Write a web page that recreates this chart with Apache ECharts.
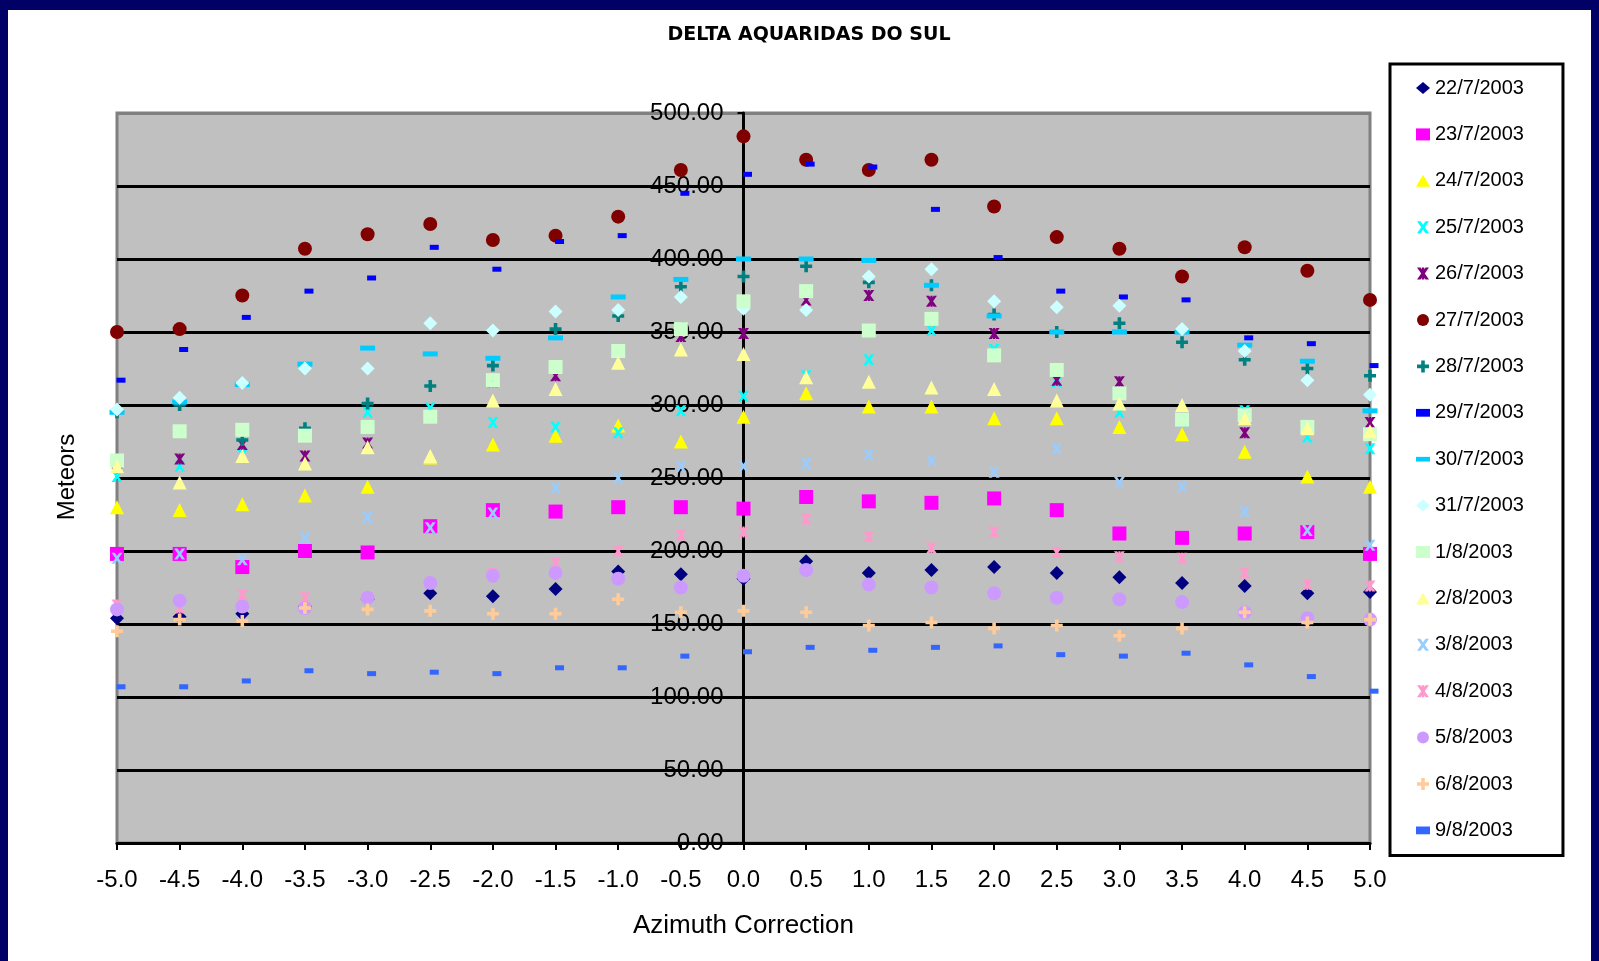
<!DOCTYPE html>
<html><head><meta charset="utf-8">
<script src="https://cdn.jsdelivr.net/npm/echarts@6/dist/echarts.min.js"></script>
<style>html,body{margin:0;padding:0;background:#fff}#c{width:1599px;height:961px}</style>
</head><body><div id="c"></div>
<script>
// ---------- DATA ----------
const xValues = [-5, -4.5, -4, -3.5, -3, -2.5, -2, -1.5, -1, -0.5, 0, 0.5, 1, 1.5, 2, 2.5, 3, 3.5, 4, 4.5, 5];
const seriesNames = ['22/7/2003','23/7/2003','24/7/2003','25/7/2003','26/7/2003','27/7/2003','28/7/2003','29/7/2003','30/7/2003','31/7/2003','1/8/2003','2/8/2003','3/8/2003','4/8/2003','5/8/2003','6/8/2003','9/8/2003'];
const s22_7 = [154, 155, 157, 162, 167, 171, 169, 174, 186, 184, 181, 193, 185, 187, 189, 185, 182, 178, 176, 171, 172];
const s23_7 = [198, 198, 189, 200, 199, 217, 228, 227, 230, 230, 229, 237, 234, 233, 236, 228, 212, 209, 212, 213, 198];
const s24_7 = [230, 228, 232, 238, 244, 264, 273, 279, 286, 275, 292, 308, 299, 299, 291, 291, 285, 280, 268, 251, 244];
const s25_7 = [251, 258, 266, 279, 295, 298, 288, 285, 281, 296, 306, 320, 331, 351, 338, 316, 295, 289, 296, 278, 270];
const s26_7 = [260, 263, 273, 265, 274, 292, 316, 320, 337, 347, 349, 372, 375, 371, 349, 317, 316, 290, 281, 284, 288];
const s27_7 = [350, 352, 375, 407, 417, 424, 413, 416, 429, 461, 484, 468, 461, 468, 436, 415, 407, 388, 408, 392, 372];
const s28_7 = [295, 300, 276, 284, 301, 313, 327, 352, 361, 381, 388, 395, 384, 382, 362, 350, 356, 343, 331, 325, 320];
const s29_7 = [317, 338, 360, 378, 387, 408, 393, 412, 416, 445, 458, 465, 463, 434, 401, 378, 374, 372, 346, 342, 327];
const s30_7 = [295, 302, 314, 328, 339, 335, 332, 346, 374, 386, 400, 400, 399, 382, 361, 350, 350, 350, 341, 330, 296];
const s31_7 = [297, 305, 315, 325, 325, 356, 351, 364, 365, 374, 366, 365, 388, 393, 371, 367, 368, 352, 337, 317, 307];
const s1_8  = [262, 282, 283, 279, 285, 292, 317, 326, 337, 352, 371, 378, 351, 359, 334, 324, 308, 290, 293, 285, 280];
const s2_8  = [258, 247, 265, 260, 271, 265, 303, 311, 329, 338, 335, 319, 316, 312, 311, 303, 301, 300, 291, 284, 282];
const s3_8  = [195, 198, 194, 209, 223, 216, 226, 243, 250, 258, 258, 260, 266, 262, 254, 270, 247, 244, 227, 214, 204];
const s4_8  = [163, 161, 170, 168, 168, 178, 185, 192, 200, 211, 213, 222, 210, 202, 213, 199, 196, 195, 185, 177, 176];
const s5_8  = [160, 166, 162, 161, 168, 178, 183, 185, 181, 175, 183, 187, 177, 175, 171, 168, 167, 165, 158, 154, 153];
const s6_8  = [145, 153, 152, 161, 160, 159, 157, 157, 167, 158, 159, 158, 149, 151, 147, 149, 142, 147, 158, 151, 153];
const s9_8  = [107, 107, 111, 118, 116, 117, 116, 120, 120, 128, 131, 134, 132, 134, 135, 129, 128, 130, 122, 114, 104];
const allValues = [s22_7, s23_7, s24_7, s25_7, s26_7, s27_7, s28_7, s29_7, s30_7, s31_7, s1_8, s2_8, s3_8, s4_8, s5_8, s6_8, s9_8];

// ---------- STYLES ----------
const P_X = 'path://M0,0H3L5,3L7,0H10L6.5,5L10,10H7L5,7L3,10H0L3.5,5Z';
const P_STAR = 'path://M0,0H3L5,3L7,0H10L6.5,5L10,10H7L5,7L3,10H0L3.5,5Z M4,0H6V10H4Z';
const P_PLUS = 'path://M3.5,0H6.5V3.5H10V6.5H6.5V10H3.5V6.5H0V3.5H3.5Z';
const P_SDASH = 'path://M0,0H9V5H0Z';
const P_LDASH = 'path://M0,0H15V5H0Z';
const colors = ['#000080','#FF00FF','#FFFF00','#00FFFF','#800080','#800000','#008080','#0000FF','#00CCFF','#CCFFFF','#CCFFCC','#FFFF99','#99CCFF','#FF99CC','#CC99FF','#FFCC99','#3366FF'];
const symbols = ['diamond','rect','triangle',P_X,P_STAR,'circle',P_PLUS,'rect','rect','diamond','rect','triangle',P_X,P_STAR,'circle',P_PLUS,'rect'];
const legendIcons = ['diamond','rect','triangle',P_X,P_STAR,'circle',P_PLUS,P_SDASH,P_LDASH,'diamond','rect','triangle',P_X,P_STAR,'circle',P_PLUS,P_SDASH];
const sizes = [14,14,14,11,11,14,12,[9,5],[15,5],14,14,14,11,11,14,12,[9,5]];
const offsets = [0,0,0,0,0,0,0,[4,0],0,0,0,0,0,0,0,0,[4,0]];

const series = seriesNames.map((name, k) => ({
  name: name,
  type: 'scatter',
  data: xValues.map((x, i) => [x, allValues[k][i]]),
  symbol: symbols[k],
  symbolSize: sizes[k],
  symbolOffset: offsets[k] || [0, 0],
  itemStyle: { color: colors[k], opacity: 1 },
  emphasis: { disabled: true },
  animation: false
}));

const splitColors = [];
for (let i = 0; i < 10; i++) splitColors.push('#000000');
splitColors.push('#808080');

const chart = echarts.init(document.getElementById('c'), null, { renderer: 'canvas' });
chart.setOption({
  backgroundColor: '#ffffff',
  animation: false,
  textStyle: { fontFamily: 'Liberation Sans' },
  grid: {
    left: 117, right: 229, top: 113, bottom: 118,
    show: true, backgroundColor: '#C0C0C0', borderColor: '#808080', borderWidth: 3
  },
  xAxis: {
    type: 'value', min: -5, max: 5, interval: 0.5,
    axisLine: { onZero: false, lineStyle: { color: '#000', width: 3 } },
    axisTick: { show: true, length: 7, lineStyle: { color: '#000', width: 2 } },
    axisLabel: { fontSize: 24, color: '#000', margin: 25, formatter: v => v.toFixed(1) },
    splitLine: { show: false },
    name: 'Azimuth Correction', nameLocation: 'middle', nameGap: 70,
    nameTextStyle: { fontSize: 26, color: '#000' }
  },
  yAxis: {
    type: 'value', min: 0, max: 500, interval: 50,
    offset: -626.5,
    axisLine: { show: true, onZero: false, lineStyle: { color: '#000', width: 3 } },
    axisTick: { show: true, length: 6, lineStyle: { color: '#000', width: 2 } },
    axisLabel: { fontSize: 24, color: '#000', margin: 20, formatter: v => v.toFixed(2) },
    splitLine: { show: true, lineStyle: { color: splitColors, width: 3 } }
  },
  legend: {
    orient: 'vertical', left: 1390, top: 64,
    padding: [14, 39, 15, 26], itemGap: 26.4, itemWidth: 14, itemHeight: 12,
    borderColor: '#000', borderWidth: 3, backgroundColor: '#fff',
    selectedMode: false,
    textStyle: { fontSize: 20, color: '#000', lineHeight: 20, fontFamily: 'Liberation Sans' },
    data: seriesNames.map((n, k) => ({ name: n, icon: legendIcons[k] }))
  },
  graphic: [
    { type: 'rect', shape: { x: 0, y: 0, width: 1599, height: 10 }, style: { fill: '#000066' }, silent: true },
    { type: 'rect', shape: { x: 0, y: 0, width: 8, height: 961 }, style: { fill: '#000066' }, silent: true },
    { type: 'rect', shape: { x: 1591, y: 0, width: 8, height: 961 }, style: { fill: '#000066' }, silent: true },
    { type: 'text', x: 809, y: 35, silent: true,
      style: { text: 'DELTA AQUARIDAS DO SUL', fontSize: 19, fontWeight: 'bold', fontFamily: 'DejaVu Sans',
               fill: '#000', textAlign: 'center', align: 'center', textVerticalAlign: 'middle', verticalAlign: 'middle' } },
    { type: 'text', x: 67, y: 477, rotation: Math.PI / 2, silent: true,
      style: { text: 'Meteors', fontSize: 24, fontFamily: 'Liberation Sans',
               fill: '#000', textAlign: 'center', align: 'center', textVerticalAlign: 'middle', verticalAlign: 'middle' } }
  ],
  series: series
});
</script></body></html>
